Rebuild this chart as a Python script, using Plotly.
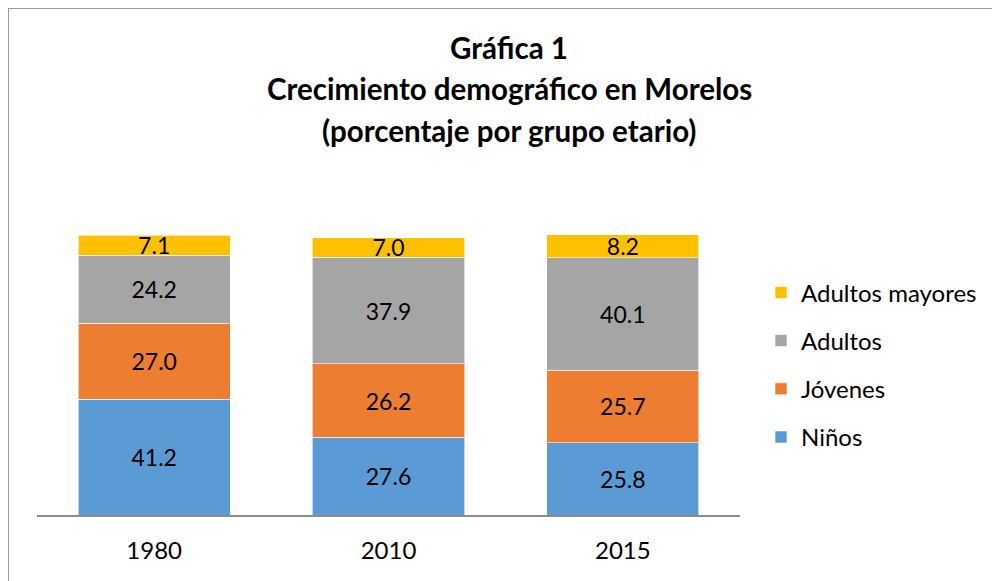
import plotly.graph_objects as go

categories = ["1980", "2010", "2015"]
ninos = [41.2, 27.6, 25.8]
jovenes = [27.0, 26.2, 25.7]
adultos = [24.2, 37.9, 40.1]
mayores = [7.1, 7.0, 8.2]

series = [
    ("Niños", ninos, "#5B9BD5"),
    ("Jóvenes", jovenes, "#ED7D31"),
    ("Adultos", adultos, "#A5A5A5"),
    ("Adultos mayores", mayores, "#FFC000"),
]
title_lines = ["Gráfica 1", "Crecimiento demográfico en Morelos", "(porcentaje por grupo etario)"]

FONT = "Lato"
OFF = 8  # page body margin
W, H = 1000 - OFF, 581 - OFF
L, R, T, B = 37 - OFF, 740 - OFF, 233.6 - OFF, 515.5 - OFF

fig = go.Figure()
n = len(series)
for i, (name, vals, col) in enumerate(series):
    fig.add_trace(go.Bar(
        x=categories, y=vals, name=name,
        marker=dict(color=col, line=dict(color="rgba(255,255,255,0.6)", width=1)),
        text=[f"{v:.1f}" for v in vals],
        textposition="inside", insidetextanchor="middle",
        textfont=dict(family=FONT, size=23, color="#000000"),
        legendgroup=f"g{i}", legendrank=n - i,
        hoverinfo="skip",
    ))

def px_x(p):
    return (p - OFF - L) / (R - L)

def px_y(p):
    return (B - (p - OFF)) / (B - T)

annotations = []
for line, yc in zip(title_lines, [47, 88, 130]):
    annotations.append(dict(
        text=f"<b>{line}</b>", xref="paper", yref="paper",
        x=px_x(509), y=px_y(yc), xanchor="center", yanchor="middle",
        showarrow=False, font=dict(family=FONT, size=29.5, color="#000000"),
    ))

fig.update_layout(
    width=W, height=H,
    barmode="stack", bargap=0.35,
    plot_bgcolor="white", paper_bgcolor="white",
    margin=dict(l=L, r=W - R, t=T, b=H - B, pad=0, autoexpand=False),
    uniformtext=dict(minsize=23, mode="show"),
    font=dict(family=FONT, color="#000000"),
    annotations=annotations,
    legend=dict(
        x=px_x(761), xanchor="left", y=px_y(270), yanchor="top",
        traceorder="grouped", tracegroupgap=14,
        font=dict(family=FONT, size=24, color="#000000"),
        bgcolor="rgba(0,0,0,0)",
    ),
    xaxis=dict(
        showline=True, linecolor="#8C8C8C", linewidth=2,
        showgrid=False, ticks="", ticklabelstandoff=13,
        tickfont=dict(family=FONT, size=24, color="#000000"),
        fixedrange=True,
    ),
    yaxis=dict(range=[0, 100], visible=False, showgrid=False, fixedrange=True),
    shapes=[
        dict(type="line", xref="paper", yref="paper",
             x0=px_x(8), x1=px_x(1005), y0=px_y(7), y1=px_y(7),
             line=dict(color="#999999", width=2)),
        dict(type="line", xref="paper", yref="paper",
             x0=px_x(8), x1=px_x(8), y0=px_y(7), y1=px_y(590),
             line=dict(color="#999999", width=2)),
    ],
)

fig.write_html("out.html")
